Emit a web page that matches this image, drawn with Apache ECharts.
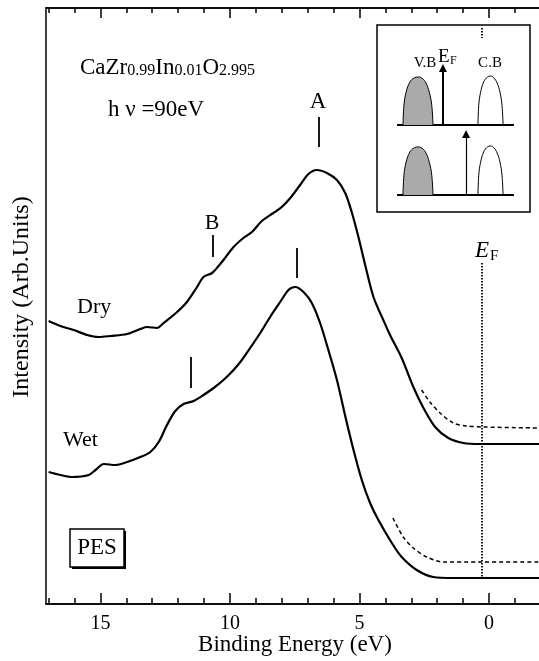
<!DOCTYPE html>
<html lang="en">
<head>
    <meta charset="UTF-8">
    <title>PES CaZrInO</title>
    <script src="https://cdn.jsdelivr.net/npm/echarts@6/dist/echarts.min.js"></script>
    <style>
        html, body { margin: 0; padding: 0; background: #fff; }
        #main { width: 539px; height: 661px; }
    </style>
</head>
<body>
<div id="main"></div>
<script>
    // binding energy (eV), intensity (arb.)
    var dryCurve = [
        [17.0, 28.3], [16.54, 27.8], [16.03, 27.4], [15.51, 26.9], [15.07, 26.7], [14.62, 26.8],
        [13.97, 27.0], [13.46, 27.5], [13.2, 27.7], [12.82, 27.6], [12.56, 28.1], [12.04, 29.2],
        [11.66, 30.2], [11.27, 31.7], [11.02, 32.7], [10.69, 33.1], [10.44, 33.8], [10.25, 34.4],
        [9.86, 35.7], [9.48, 36.6], [9.15, 37.2], [8.77, 38.3], [8.32, 39.1], [8.0, 39.7],
        [7.67, 40.6], [7.29, 41.9], [6.97, 43.0], [6.64, 43.4], [6.26, 43.1], [5.87, 42.4],
        [5.55, 41.1], [5.3, 39.2], [5.04, 36.7], [4.78, 33.9], [4.46, 30.7], [4.08, 28.4],
        [3.82, 26.9], [3.37, 24.6], [2.92, 21.7], [2.53, 19.6], [2.08, 17.7], [1.57, 16.6],
        [0.99, 16.1], [0.35, 16.0], [-1.93, 16.0]
    ];
    var wetCurve = [
        [17.0, 13.2], [16.54, 12.9], [16.09, 12.7], [15.45, 12.9], [15.19, 13.4], [14.87, 14.0],
        [14.42, 13.9], [13.97, 14.2], [13.46, 14.7], [13.07, 15.2], [12.75, 16.2], [12.43, 17.9],
        [12.11, 19.3], [11.79, 20.0], [11.4, 20.3], [11.02, 20.9], [10.63, 21.6], [10.25, 22.4],
        [9.86, 23.4], [9.54, 24.4], [9.22, 25.6], [8.83, 27.1], [8.45, 28.7], [8.06, 30.2],
        [7.74, 31.4], [7.48, 31.7], [7.16, 31.2], [6.84, 30.1], [6.52, 28.1], [6.2, 25.4],
        [5.87, 22.4], [5.55, 18.8], [5.23, 15.4], [4.91, 12.4], [4.59, 10.1], [4.27, 8.4],
        [3.75, 6.1], [3.37, 4.7], [2.79, 3.4], [2.15, 2.7], [1.38, 2.6], [-1.93, 2.6]
    ];
    var dryEdge = [[2.6, 21.4], [2.28, 20.2], [1.89, 19.1], [1.38, 18.1], [0.86, 17.8], [0.22, 17.7], [-1.93, 17.6]];
    var wetEdge = [[3.71, 8.6], [3.31, 6.7], [2.92, 5.6], [2.4, 4.7], [1.76, 4.2], [0.35, 4.2], [-1.93, 4.2]];

    var fermiLevel = 0.28;
    var fermiSpans = [[34.1, 2.7], [57.6, 56.6]];
    // peak markers: [energy, from, to]
    var peakMarks = [[6.59, 48.7, 45.7], [10.68, 36.9, 34.7], [7.44, 35.6, 32.6], [11.53, 24.7, 21.6]];

    var majorTicks = [0, 5, 10, 15];
    var minorTicks = [-1, 1, 2, 3, 4, 6, 7, 8, 9, 11, 12, 13, 14, 16, 17];
    var xMin = -1.93, xMax = 17.1;

    // inset band scheme (0..10 box units)
    var vbTop = [[1.7, 4.65], [1.76, 5.7], [1.9, 6.4], [2.15, 6.95], [2.45, 7.18], [2.7, 7.22], [2.95, 7.15], [3.2, 6.9], [3.42, 6.4], [3.58, 5.7], [3.66, 4.65]];
    var cbTop = [[6.6, 4.65], [6.65, 5.7], [6.77, 6.4], [6.98, 6.97], [7.22, 7.22], [7.42, 7.27], [7.63, 7.18], [7.85, 6.9], [8.04, 6.4], [8.17, 5.7], [8.24, 4.65]];
    var vbLow = [[1.7, 0.91], [1.76, 1.96], [1.9, 2.66], [2.15, 3.21], [2.45, 3.44], [2.7, 3.48], [2.95, 3.41], [3.2, 3.16], [3.42, 2.66], [3.58, 1.96], [3.66, 0.91]];
    var cbLow = [[6.6, 0.91], [6.65, 1.96], [6.77, 2.66], [6.98, 3.23], [7.22, 3.48], [7.42, 3.53], [7.63, 3.44], [7.85, 3.16], [8.04, 2.66], [8.17, 1.96], [8.24, 0.91]];
    var baselines = [[1.31, 8.95, 4.65], [1.31, 8.95, 0.91]];
    var arrowTop = [[4.31, 4.65], [4.31, 7.7]];
    var arrowLow = [[5.82, 0.91], [5.82, 4.17]];

    var font = "'Liberation Serif', 'Times New Roman', serif";

    function xAx(pos, values, len, withLabel) {
        return {
            type: 'value', gridIndex: 0, position: pos, min: xMin, max: xMax, inverse: true,
            axisLine: { show: true, onZero: false, lineStyle: { color: '#000', width: 1.5 } },
            axisTick: { show: true, inside: true, length: len, customValues: values, lineStyle: { color: '#000', width: 1.5 } },
            axisLabel: withLabel ? {
                show: true, customValues: majorTicks, margin: 10, color: '#000',
                fontFamily: font, fontSize: 20
            } : { show: false },
            splitLine: { show: false }
        };
    }

    function lineSeries(data, width, dash) {
        return {
            type: 'line', xAxisIndex: 0, yAxisIndex: 0, data: data, symbol: 'none',
            smooth: 0.3, silent: true, animation: false,
            lineStyle: { color: '#000', width: width, type: dash || 'solid' }
        };
    }

    function band(data, base, fill) {
        return {
            type: 'line', xAxisIndex: 4, yAxisIndex: 1, data: data, symbol: 'none',
            smooth: 0.4, silent: true, animation: false,
            lineStyle: { color: '#000', width: 1 },
            areaStyle: fill ? { color: fill, opacity: 1, origin: base } : undefined
        };
    }

    var chart = echarts.init(document.getElementById('main'));
    var option = {
        animation: false,
        backgroundColor: '#fff',
        grid: [
            { left: 46, right: 0, top: 8, bottom: 57 },
            { left: 377, top: 25, width: 153, height: 187, show: true, borderColor: '#000', borderWidth: 1.5, backgroundColor: 'transparent' }
        ],
        xAxis: [
            xAx('bottom', majorTicks, 11, true),
            xAx('bottom', minorTicks, 6, false),
            xAx('top', majorTicks, 10, false),
            xAx('top', minorTicks, 5, false),
            { type: 'value', gridIndex: 1, min: 0, max: 10, show: false }
        ],
        yAxis: [
            {
                type: 'value', gridIndex: 0, min: 0, max: 59.6, position: 'left',
                axisLine: { show: true, onZero: false, lineStyle: { color: '#000', width: 1.5 } },
                axisTick: { show: false }, axisLabel: { show: false }, splitLine: { show: false }
            },
            { type: 'value', gridIndex: 1, min: 0, max: 10, show: false }
        ],
        series: [
            lineSeries(dryCurve, 2.2),
            lineSeries(wetCurve, 2.2),
            lineSeries(dryEdge, 1.5, [4, 3]),
            lineSeries(wetEdge, 1.5, [4, 3]),
            {
                type: 'lines', coordinateSystem: 'cartesian2d', xAxisIndex: 0, yAxisIndex: 0,
                silent: true, animation: false,
                lineStyle: { color: '#000', width: 1.8, type: [1.5, 1.5], opacity: 1 },
                data: fermiSpans.map(function (s) { return { coords: [[fermiLevel, s[0]], [fermiLevel, s[1]]] }; })
            },
            {
                type: 'lines', coordinateSystem: 'cartesian2d', xAxisIndex: 0, yAxisIndex: 0,
                silent: true, animation: false,
                lineStyle: { color: '#000', width: 1.8, opacity: 1 },
                data: peakMarks.map(function (m) { return { coords: [[m[0], m[1]], [m[0], m[2]]] }; })
            },
            band(vbTop, 4.65, '#aaaaaa'),
            band(cbTop, 4.65, null),
            band(vbLow, 0.91, '#aaaaaa'),
            band(cbLow, 0.91, null),
            {
                type: 'lines', coordinateSystem: 'cartesian2d', xAxisIndex: 4, yAxisIndex: 1,
                silent: true, animation: false,
                lineStyle: { color: '#000', width: 2, opacity: 1 },
                data: baselines.map(function (b) { return { coords: [[b[0], b[2]], [b[1], b[2]]] }; })
            },
            {
                type: 'lines', coordinateSystem: 'cartesian2d', xAxisIndex: 4, yAxisIndex: 1,
                silent: true, animation: false, symbol: ['none', 'triangle'], symbolSize: 8,
                lineStyle: { color: '#000', width: 2, opacity: 1 },
                data: [{ coords: arrowTop }]
            },
            {
                type: 'lines', coordinateSystem: 'cartesian2d', xAxisIndex: 4, yAxisIndex: 1,
                silent: true, animation: false, symbol: ['none', 'triangle'], symbolSize: 8,
                lineStyle: { color: '#000', width: 1.2, opacity: 1 },
                data: [{ coords: arrowLow }]
            }
        ],
        graphic: [
            {
                type: 'text', x: 80, y: 67,
                style: {
                    text: '{m|CaZr}{s|0.99}{m|In}{s|0.01}{m|O}{s|2.995}',
                    textVerticalAlign: 'middle',
                    rich: {
                        m: { fontFamily: font, fontSize: 23, fill: '#000', verticalAlign: 'bottom', lineHeight: 24 },
                        s: { fontFamily: font, fontSize: 16, fill: '#000', verticalAlign: 'bottom', lineHeight: 24 }
                    }
                }
            },
            { type: 'text', x: 108, y: 110, style: { text: 'h \u03bd =90eV', font: '23px ' + font, fill: '#000', textVerticalAlign: 'middle' } },
            { type: 'text', x: 318, y: 102, style: { text: 'A', font: '23px ' + font, fill: '#000', textAlign: 'center', textVerticalAlign: 'middle' } },
            { type: 'text', x: 212, y: 223, style: { text: 'B', font: '22px ' + font, fill: '#000', textAlign: 'center', textVerticalAlign: 'middle' } },
            { type: 'text', x: 77, y: 307, style: { text: 'Dry', font: '22px ' + font, fill: '#000', textVerticalAlign: 'middle' } },
            { type: 'text', x: 63, y: 440, style: { text: 'Wet', font: '22px ' + font, fill: '#000', textVerticalAlign: 'middle' } },
            { type: 'rect', shape: { x: 72, y: 531, width: 54, height: 38 }, style: { fill: '#000' } },
            { type: 'rect', shape: { x: 70, y: 529, width: 54, height: 38 }, style: { fill: '#fff', stroke: '#000', lineWidth: 1.5 } },
            { type: 'text', x: 97, y: 548, style: { text: 'PES', font: '23px ' + font, fill: '#000', textAlign: 'center', textVerticalAlign: 'middle' } },
            { type: 'text', x: 475, y: 251, style: { text: 'E', font: 'italic 23px ' + font, fill: '#000', textVerticalAlign: 'middle' } },
            { type: 'text', x: 490, y: 256, style: { text: 'F', font: '15px ' + font, fill: '#000', textVerticalAlign: 'middle' } },
            { type: 'text', x: 425, y: 63, style: { text: 'V.B', font: '15px ' + font, fill: '#000', textAlign: 'center', textVerticalAlign: 'middle' } },
            { type: 'text', x: 438, y: 57, style: { text: 'E', font: '19px ' + font, fill: '#000', textVerticalAlign: 'middle' } },
            { type: 'text', x: 450, y: 61, style: { text: 'F', font: '12px ' + font, fill: '#000', textVerticalAlign: 'middle' } },
            { type: 'text', x: 490, y: 63, style: { text: 'C.B', font: '15px ' + font, fill: '#000', textAlign: 'center', textVerticalAlign: 'middle' } },
            { type: 'text', x: 295, y: 645, style: { text: 'Binding Energy (eV)', font: '23px ' + font, fill: '#000', textAlign: 'center', textVerticalAlign: 'middle' } },
            { type: 'text', x: 22, y: 297, rotation: Math.PI / 2, style: { text: 'Intensity (Arb.Units)', font: '24px ' + font, fill: '#000', textAlign: 'center', textVerticalAlign: 'middle' } }
        ]
    };
    chart.setOption(option);
</script>
</body>
</html>
